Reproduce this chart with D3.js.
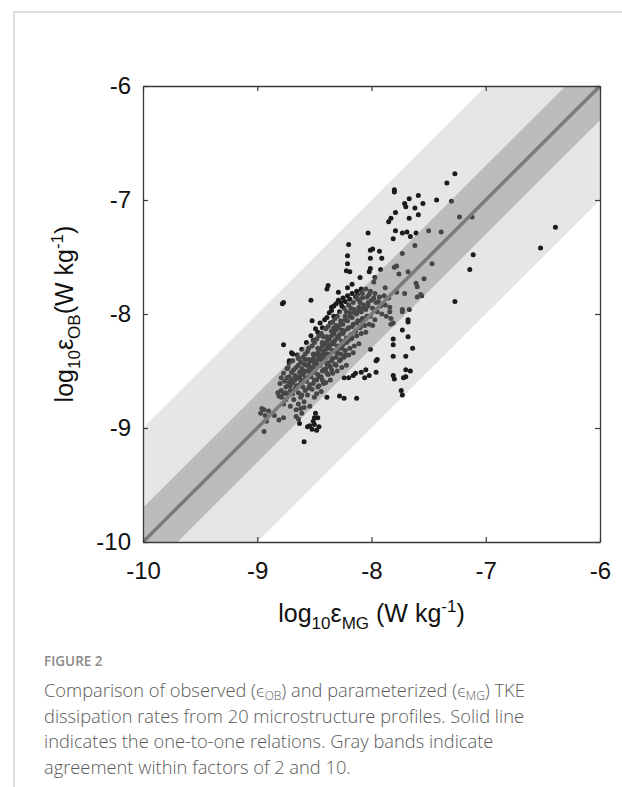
<!DOCTYPE html>
<html>
<head>
<meta charset="utf-8">
<script src="https://cdn.jsdelivr.net/npm/d3@7"></script>
<style>
  html, body { margin: 0; padding: 0; background: #fff; }
  svg { display: block; }
</style>
</head>
<body>
<script>
// Axis range and tick values (log10 of dissipation rate, W kg^-1)
const axisDomain = [-10, -6];
const tickValues = [-10, -9, -8, -7, -6];
// Agreement factors shown as bands around the 1:1 line
const bandFactors = [10, 2];

// [log10 eps_MG, log10 eps_OB] pairs, scattered points outside the core
const outerPoints = [
  [-7.27,-6.77],[-7.34,-6.85],[-7.80,-6.91],[-7.80,-6.93],[-7.59,-6.96],[-7.67,-6.99],
  [-7.43,-7.00],[-7.30,-7.01],[-7.71,-7.03],[-7.70,-7.06],[-7.55,-7.03],[-7.62,-7.07],
  [-7.79,-7.11],[-7.59,-7.13],[-7.83,-7.16],[-7.85,-7.19],[-7.67,-7.16],[-7.79,-7.27],
  [-7.73,-7.29],[-7.69,-7.28],[-7.66,-7.32],[-7.61,-7.29],[-8.03,-7.29],[-7.50,-7.27],
  [-7.39,-7.28],[-7.81,-7.34],[-8.20,-7.39],[-7.62,-7.40],[-7.99,-7.43],[-8.01,-7.44],
  [-7.93,-7.45],[-7.73,-7.47],[-8.21,-7.49],[-8.01,-7.51],[-7.91,-7.51],[-8.21,-7.56],
  [-7.78,-7.58],[-7.80,-7.59],[-7.76,-7.65],[-7.47,-7.56],[-8.22,-7.62],[-8.19,-7.63],
  [-8.01,-7.60],[-8.02,-7.63],[-7.92,-7.61],[-7.68,-7.63],[-8.10,-7.68],[-7.97,-7.68],
  [-7.98,-7.72],[-7.54,-7.69],[-8.17,-7.74],[-8.38,-7.75],[-8.39,-7.78],[-8.21,-7.77],
  [-8.09,-7.78],[-7.61,-7.73],[-7.60,-7.76],[-7.88,-7.77],[-7.78,-7.81],[-7.71,-7.82],
  [-7.57,-7.83],[-7.60,-7.85],[-7.56,-7.84],[-7.27,-7.89],[-7.23,-7.15],[-7.12,-7.15],
  [-6.39,-7.24],[-6.52,-7.42],[-7.11,-7.48],[-7.14,-7.61],[-7.73,-7.96],[-7.67,-7.96],
  [-7.84,-7.94],[-7.83,-8.04],[-7.83,-8.09],[-7.68,-8.05],[-7.68,-8.07],[-7.73,-8.14],
  [-7.68,-8.20],[-7.81,-8.22],[-7.81,-8.27],[-7.64,-8.30],[-7.81,-8.37],[-7.70,-8.37],
  [-7.70,-8.49],[-7.66,-8.50],[-7.81,-8.54],[-7.80,-8.57],[-7.72,-8.56],[-7.70,-8.55],
  [-7.74,-8.67],[-7.73,-8.71],[-7.73,-7.98],[-7.81,-8.08],[-8.33,-8.02],[-8.01,-8.31],
  [-7.95,-8.40],[-7.96,-8.41],[-7.96,-8.51],[-8.05,-8.49],[-8.09,-8.51],[-8.02,-8.54],
  [-8.06,-8.56],[-8.14,-8.52],[-8.16,-8.54],[-8.24,-8.56],[-8.20,-8.56],[-8.28,-8.72],
  [-8.24,-8.74],[-8.13,-8.74],[-8.77,-7.90],[-8.78,-7.91],[-8.53,-7.88],[-8.52,-8.06],
  [-8.35,-7.94],[-8.33,-8.12],[-8.77,-8.27],[-8.70,-8.34],[-8.69,-8.35],[-8.64,-8.39],
  [-8.72,-8.41],[-8.72,-8.43],[-8.74,-8.48],[-8.79,-8.56],[-8.67,-8.56],[-8.72,-8.60],
  [-8.73,-8.63],[-8.75,-8.64],[-8.82,-8.69],[-8.81,-8.72],[-8.77,-8.70],[-8.79,-8.73],
  [-8.75,-8.75],[-8.96,-8.83],[-8.94,-8.84],[-8.97,-8.87],[-8.90,-8.85],[-8.92,-8.94],
  [-8.81,-8.93],[-8.94,-9.03],[-8.64,-8.92],[-8.66,-8.90],[-8.62,-8.83],[-8.59,-8.82],
  [-8.39,-8.73],[-8.49,-8.87],[-8.47,-8.91],[-8.50,-8.91],[-8.51,-8.94],[-8.63,-8.96],
  [-8.56,-8.99],[-8.54,-8.98],[-8.50,-8.97],[-8.52,-9.01],[-8.48,-9.02],[-8.46,-8.99],
  [-8.59,-9.12],[-8.29,-7.81],[-8.85,-8.89],[-8.77,-8.91],[-8.61,-8.87],[-8.93,-8.89]
];

// [log10 eps_MG, log10 eps_OB] pairs in the dense core near the 1:1 line
const corePoints = [
  [-8.80,-8.61],[-8.79,-8.67],
  [-8.77,-8.52],[-8.76,-8.59],[-8.75,-8.69],[-8.77,-8.79],
  [-8.73,-8.47],[-8.72,-8.55],[-8.71,-8.63],[-8.73,-8.71],[-8.71,-8.81],
  [-8.69,-8.41],[-8.68,-8.49],[-8.67,-8.54],[-8.69,-8.60],[-8.67,-8.66],[-8.68,-8.75],[-8.66,-8.84],
  [-8.65,-8.36],[-8.64,-8.45],[-8.63,-8.51],[-8.65,-8.56],[-8.63,-8.62],[-8.64,-8.69],[-8.62,-8.73],[-8.64,-8.79],
  [-8.61,-8.31],[-8.60,-8.38],[-8.59,-8.44],[-8.61,-8.48],[-8.60,-8.53],[-8.58,-8.57],[-8.60,-8.64],[-8.61,-8.71],[-8.59,-8.77],
  [-8.57,-8.25],[-8.56,-8.33],[-8.55,-8.40],[-8.57,-8.45],[-8.56,-8.50],[-8.54,-8.54],[-8.57,-8.59],[-8.55,-8.65],[-8.56,-8.71],[-8.54,-8.81],
  [-8.53,-8.19],[-8.52,-8.28],[-8.51,-8.35],[-8.53,-8.41],[-8.52,-8.47],[-8.50,-8.51],[-8.53,-8.55],[-8.51,-8.61],[-8.52,-8.66],[-8.50,-8.73],
  [-8.49,-8.13],[-8.48,-8.22],[-8.47,-8.30],[-8.49,-8.36],[-8.48,-8.41],[-8.46,-8.45],[-8.49,-8.48],[-8.47,-8.53],[-8.48,-8.58],[-8.46,-8.63],[-8.48,-8.70],
  [-8.45,-8.08],[-8.44,-8.17],[-8.43,-8.25],[-8.45,-8.31],[-8.44,-8.36],[-8.42,-8.40],[-8.45,-8.45],[-8.43,-8.50],[-8.44,-8.55],[-8.42,-8.61],[-8.44,-8.68],
  [-8.41,-8.05],[-8.40,-8.13],[-8.39,-8.20],[-8.41,-8.26],[-8.40,-8.31],[-8.38,-8.35],[-8.41,-8.39],[-8.39,-8.44],[-8.40,-8.48],[-8.38,-8.53],[-8.40,-8.60],
  [-8.37,-7.99],[-8.36,-8.08],[-8.35,-8.15],[-8.37,-8.22],[-8.36,-8.27],[-8.34,-8.32],[-8.37,-8.36],[-8.35,-8.41],[-8.36,-8.46],[-8.34,-8.52],[-8.36,-8.58],
  [-8.33,-7.93],[-8.32,-8.04],[-8.31,-8.10],[-8.33,-8.17],[-8.32,-8.23],[-8.30,-8.28],[-8.33,-8.33],[-8.31,-8.38],[-8.32,-8.44],[-8.30,-8.50],
  [-8.29,-7.88],[-8.28,-7.98],[-8.27,-8.06],[-8.29,-8.12],[-8.28,-8.18],[-8.26,-8.24],[-8.29,-8.30],[-8.27,-8.35],[-8.28,-8.41],[-8.26,-8.47],
  [-8.25,-7.86],[-8.24,-7.95],[-8.23,-8.02],[-8.25,-8.09],[-8.24,-8.15],[-8.22,-8.21],[-8.25,-8.27],[-8.23,-8.32],[-8.24,-8.38],[-8.22,-8.45],
  [-8.21,-7.84],[-8.20,-7.92],[-8.19,-7.99],[-8.21,-8.06],[-8.20,-8.12],[-8.18,-8.18],[-8.21,-8.24],[-8.19,-8.30],[-8.20,-8.36],
  [-8.17,-7.82],[-8.16,-7.90],[-8.15,-7.96],[-8.17,-8.03],[-8.16,-8.09],[-8.14,-8.15],[-8.17,-8.21],[-8.15,-8.28],[-8.16,-8.34],
  [-8.13,-7.80],[-8.12,-7.87],[-8.11,-7.94],[-8.13,-8.00],[-8.12,-8.06],[-8.10,-8.12],[-8.13,-8.19],[-8.11,-8.26],
  [-8.09,-7.79],[-8.08,-7.86],[-8.07,-7.92],[-8.09,-7.98],[-8.08,-8.04],[-8.06,-8.10],[-8.09,-8.17],
  [-8.05,-7.78],[-8.04,-7.85],[-8.03,-7.90],[-8.05,-7.96],[-8.04,-8.02],[-8.02,-8.09],[-8.05,-8.16],
  [-8.01,-7.80],[-8.00,-7.88],[-7.99,-7.95],[-8.01,-8.02],[-7.99,-8.10],
  [-7.97,-7.82],[-7.96,-7.90],[-7.95,-7.98],[-7.97,-8.05],
  [-7.93,-7.85],[-7.92,-7.93],[-7.91,-8.00],
  [-7.89,-7.84],[-7.88,-7.92],[-7.87,-8.02],
  [-7.85,-7.86],[-7.84,-7.98],
  [-8.58,-8.35],[-8.50,-8.25],[-8.42,-8.20],[-8.46,-8.19],[-8.38,-8.11],[-8.34,-8.07],
  [-8.30,-8.02],[-8.26,-7.93],[-8.22,-7.98],[-8.18,-7.95],[-8.14,-7.85],[-8.10,-7.90],
  [-8.26,-8.14],[-8.30,-8.20],[-8.34,-8.25],[-8.38,-8.28],[-8.42,-8.33],[-8.46,-8.38],
  [-8.50,-8.43],[-8.54,-8.47],[-8.58,-8.50],[-8.62,-8.58],[-8.66,-8.63],[-8.70,-8.58],
  [-8.74,-8.56],[-8.70,-8.51],[-8.66,-8.47],[-8.62,-8.42],[-8.58,-8.40],[-8.55,-8.30],
  [-8.51,-8.23],[-8.47,-8.16],[-8.43,-8.12],[-8.39,-8.03],[-8.35,-7.97],[-8.31,-7.91],
  [-8.27,-7.90],[-8.23,-7.89],[-8.19,-7.87],[-8.71,-8.67],[-8.67,-8.58],[-8.63,-8.55],
  [-8.59,-8.51],[-8.55,-8.44],[-8.51,-8.39],[-8.47,-8.34],[-8.43,-8.28],[-8.39,-8.24],
  [-8.35,-8.19],[-8.31,-8.14],[-8.27,-8.09],[-8.23,-8.05],[-8.19,-8.02],[-8.15,-7.99],
  [-8.11,-7.97],[-8.07,-7.95],[-8.03,-7.93],[-8.69,-8.70],[-8.65,-8.64],[-8.61,-8.60],
  [-8.57,-8.56],[-8.53,-8.51],[-8.49,-8.44],[-8.45,-8.40],[-8.41,-8.35],[-8.37,-8.30],
  [-8.33,-8.26],[-8.29,-8.21],[-8.25,-8.17],[-8.21,-8.13],[-8.17,-8.11],[-8.13,-8.08],
  [-8.09,-8.06],[-8.05,-8.04],[-8.58,-8.67],[-8.54,-8.62],[-8.50,-8.58],[-8.46,-8.55],
  [-8.42,-8.49],[-8.38,-8.43],[-8.34,-8.39],[-8.30,-8.34],[-8.26,-8.30],[-8.22,-8.25],
  [-8.18,-8.22],[-8.47,-8.64],[-8.43,-8.58],[-8.39,-8.52],[-8.35,-8.49],[-8.31,-8.45],
  [-8.27,-8.40],[-8.23,-8.36],[-8.12,-7.83],[-8.08,-7.82],[-8.02,-7.83],[-7.98,-7.86],
  [-7.94,-7.89]
];

const W = 622, H = 787;
const plot = { left: 143, top: 86, right: 600, bottom: 542 };

const svg = d3.select("body").append("svg")
  .attr("width", W).attr("height", H)
  .attr("viewBox", `0 0 ${W} ${H}`);

// card frame
svg.append("path")
  .attr("d", `M14,${H} L14,12 L${W},12`)
  .attr("fill", "none").attr("stroke", "#d2d2d2").attr("stroke-width", 1.5);

const x = d3.scaleLinear().domain(axisDomain).range([plot.left, plot.right]);
const y = d3.scaleLinear().domain(axisDomain).range([plot.bottom, plot.top]);

svg.append("clipPath").attr("id", "plotClip")
  .append("rect")
  .attr("x", plot.left).attr("y", plot.top)
  .attr("width", plot.right - plot.left).attr("height", plot.bottom - plot.top);

const g = svg.append("g").attr("clip-path", "url(#plotClip)");

// band between y = x - w and y = x + w, in data units
function bandPath(w) {
  const lo = axisDomain[0] - 2, hi = axisDomain[1] + 2;
  const pts = [[lo, lo + w], [hi, hi + w], [hi, hi - w], [lo, lo - w]];
  return "M" + pts.map(p => `${x(p[0])},${y(p[1])}`).join("L") + "Z";
}

const wide = Math.log10(bandFactors[0]);
const narrow = Math.log10(bandFactors[1]);

g.append("path").attr("d", bandPath(wide)).attr("fill", "#e6e6e6");

const allPoints = outerPoints.concat(corePoints);
g.selectAll("circle.pt").data(allPoints).enter().append("circle")
  .attr("class", "pt")
  .attr("cx", d => x(d[0])).attr("cy", d => y(d[1]))
  .attr("r", 2.5)
  .attr("fill", "#1b1b1b");

g.append("path").attr("d", bandPath(narrow))
  .attr("fill", "#848484").attr("fill-opacity", 0.42);

g.append("line")
  .attr("x1", x(axisDomain[0])).attr("y1", y(axisDomain[0]))
  .attr("x2", x(axisDomain[1])).attr("y2", y(axisDomain[1]))
  .attr("stroke", "#7b7b7b").attr("stroke-width", 3.5);

// axes with inward ticks on all four sides
const tickLen = 5;
const fontAxis = "'Liberation Sans', Arial, Helvetica, sans-serif";
const fmt = d => d3.format("d")(d).replace("\u2212", "-");

const axB = svg.append("g").attr("transform", `translate(0,${plot.bottom})`)
  .call(d3.axisBottom(x).tickValues(tickValues).tickSizeInner(-tickLen).tickSizeOuter(0).tickPadding(20).tickFormat(fmt));
const axL = svg.append("g").attr("transform", `translate(${plot.left},0)`)
  .call(d3.axisLeft(y).tickValues(tickValues).tickSizeInner(-tickLen).tickSizeOuter(0).tickPadding(12).tickFormat(fmt));
const axT = svg.append("g").attr("transform", `translate(0,${plot.top})`)
  .call(d3.axisTop(x).tickValues(tickValues).tickSizeInner(-tickLen).tickSizeOuter(0).tickFormat(""));
const axR = svg.append("g").attr("transform", `translate(${plot.right},0)`)
  .call(d3.axisRight(y).tickValues(tickValues).tickSizeInner(-tickLen).tickSizeOuter(0).tickFormat(""));

[axB, axL, axT, axR].forEach(a => {
  a.select(".domain").attr("stroke", "#3a3a3a").attr("stroke-width", 1.3);
  a.selectAll(".tick line").attr("stroke", "#3a3a3a").attr("stroke-width", 1.2);
  a.selectAll(".tick text").attr("font-family", fontAxis).attr("font-size", 24).attr("fill", "#111");
});

// axis titles with sub/superscripts
function titleText(sel, parts) {
  parts.forEach(p => {
    sel.append("tspan").attr("font-size", p.size).attr("dy", p.dy || 0).text(p.t);
  });
}
const big = 25, small = 17;

const xt = svg.append("text")
  .attr("x", (plot.left + plot.right) / 2).attr("y", 622)
  .attr("text-anchor", "middle").attr("font-family", fontAxis).attr("fill", "#111");
titleText(xt, [
  { t: "log", size: big },
  { t: "10", size: small, dy: 7 },
  { t: "\u03b5", size: big, dy: -7 },
  { t: "MG", size: small, dy: 7 },
  { t: " (W kg", size: big, dy: -7 },
  { t: "-1", size: small, dy: -10 },
  { t: ")", size: big, dy: 10 }
]);

const yt = svg.append("text")
  .attr("transform", `translate(73,${(plot.top + plot.bottom) / 2}) rotate(-90)`)
  .attr("text-anchor", "middle").attr("font-family", fontAxis).attr("fill", "#111");
titleText(yt, [
  { t: "log", size: big },
  { t: "10", size: small, dy: 7 },
  { t: "\u03b5", size: big, dy: -7 },
  { t: "OB", size: small, dy: 7 },
  { t: "(W kg", size: big, dy: -7 },
  { t: "-1", size: small, dy: -10 },
  { t: ")", size: big, dy: 10 }
]);

// caption
const capFont = "'Open Sans', Lato, sans-serif";
svg.append("text").attr("x", 44).attr("y", 666)
  .attr("font-family", capFont).attr("font-size", 13.5).attr("fill", "#8a8a8a")
  .attr("font-weight", 600)
  .text("FIGURE 2");

const capLines = [
  [["Comparison of observed (", 0], ["\u03f5", 0], ["OB", 1], [") and parameterized (", 0], ["\u03f5", 0], ["MG", 1], [") TKE", 0]],
  [["dissipation rates from 20 microstructure profiles. Solid line", 0]],
  [["indicates the one-to-one relations. Gray bands indicate", 0]],
  [["agreement within factors of 2 and 10.", 0]]
];
capLines.forEach((line, i) => {
  const t = svg.append("text").attr("x", 44).attr("y", 697 + i * 25.7)
    .attr("font-family", capFont).attr("font-size", 18.3).attr("fill", "#5a5a5a")
    .attr("font-weight", 300);
  let prevSub = 0;
  line.forEach(([s, sub]) => {
    const ts = t.append("tspan").text(s);
    if (sub) ts.attr("font-size", 12);
    const dy = (sub - prevSub) * 2.5;
    if (dy) ts.attr("dy", dy);
    prevSub = sub;
  });
});
</script>
</body>
</html>
